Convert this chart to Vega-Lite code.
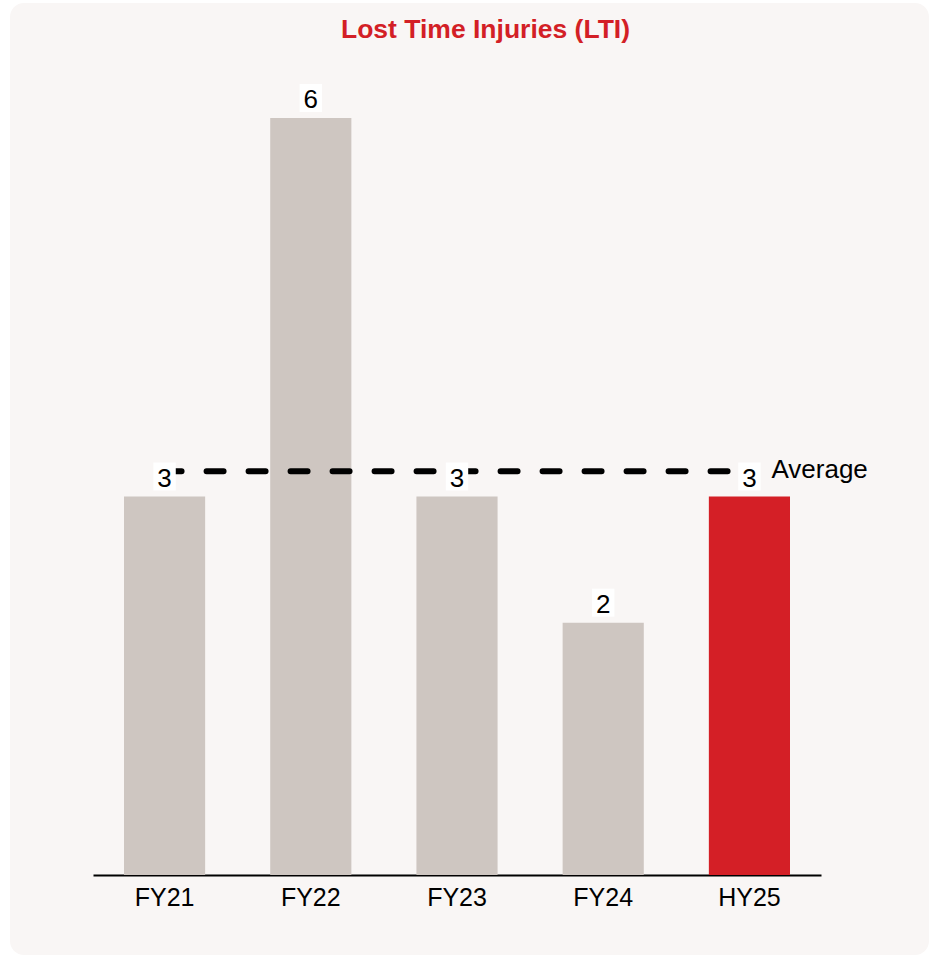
{
  "$schema": "https://vega.github.io/schema/vega-lite/v6.json",
  "autosize": "none",
  "width": 919,
  "height": 952,
  "padding": {"left": 10, "top": 3, "right": 0, "bottom": 2},
  "background": "#ffffff",
  "config": {
    "view": {"fill": "#f9f6f5", "stroke": null, "cornerRadius": 14},
    "font": "Liberation Sans"
  },
  "title": {
    "text": "Lost Time Injuries (LTI)",
    "color": "#d31f26",
    "fontSize": 26.5,
    "fontWeight": "bold",
    "font": "Liberation Sans",
    "anchor": "middle",
    "frame": "group",
    "baseline": "alphabetic",
    "offset": -61,
    "dx": 16
  },
  "datasets": {
    "bars": [
      {"period": "FY21", "lti": 3, "highlight": "no"},
      {"period": "FY22", "lti": 6, "highlight": "no"},
      {"period": "FY23", "lti": 3, "highlight": "no"},
      {"period": "FY24", "lti": 2, "highlight": "no"},
      {"period": "HY25", "lti": 3, "highlight": "yes"}
    ],
    "avg": [
      {"start": "FY21", "end": "HY25", "average": 3.2, "label": "Average"}
    ]
  },
  "layer": [
    {
      "data": {"name": "bars"},
      "mark": {"type": "bar"},
      "encoding": {
        "x": {
          "field": "period",
          "type": "nominal",
          "sort": null,
          "scale": {"range": [83, 811], "paddingInner": 0.445, "paddingOuter": 0.212},
          "axis": {
            "title": null,
            "orient": "bottom",
            "offset": -80,
            "domainColor": "#000000",
            "domainWidth": 2,
            "ticks": false,
            "labelFontSize": 25,
            "labelColor": "#000000",
            "labelPadding": 10,
            "labelAngle": 0,
            "labelFont": "Liberation Sans",
            "grid": false
          }
        },
        "y": {
          "field": "lti",
          "type": "quantitative",
          "scale": {"domain": [0, 6], "range": [872, 115], "nice": false, "zero": true},
          "axis": null
        },
        "color": {
          "field": "highlight",
          "type": "nominal",
          "scale": {"domain": ["no", "yes"], "range": ["#cec6c1", "#d41f26"]},
          "legend": null
        }
      }
    },
    {
      "data": {"name": "avg"},
      "mark": {"type": "rule", "color": "#000000", "strokeWidth": 6, "strokeDash": [17, 25], "strokeCap": "round"},
      "encoding": {
        "x": {"field": "start", "type": "nominal", "bandPosition": 0.5},
        "x2": {"field": "end", "bandPosition": 0.5},
        "y": {"field": "average", "type": "quantitative"}
      }
    },
    {
      "data": {"name": "bars"},
      "mark": {"type": "point", "shape": "M-0.8,-1H0.8V1H-0.8Z", "filled": true, "color": "#ffffff", "opacity": 1, "size": 784, "strokeWidth": 0, "yOffset": -20},
      "encoding": {
        "x": {"field": "period", "type": "nominal", "sort": null},
        "y": {"field": "lti", "type": "quantitative"}
      }
    },
    {
      "data": {"name": "bars"},
      "mark": {"type": "text", "fontSize": 26, "color": "#000000", "baseline": "alphabetic", "dy": -10, "font": "Liberation Sans"},
      "encoding": {
        "x": {"field": "period", "type": "nominal", "sort": null},
        "y": {"field": "lti", "type": "quantitative"},
        "text": {"field": "lti", "type": "quantitative"}
      }
    },
    {
      "data": {"name": "avg"},
      "mark": {"type": "text", "fontSize": 26, "color": "#000000", "align": "left", "baseline": "middle", "dx": 22, "dy": -1, "font": "Liberation Sans"},
      "encoding": {
        "x": {"field": "end", "type": "nominal", "bandPosition": 0.5},
        "y": {"field": "average", "type": "quantitative"},
        "text": {"field": "label", "type": "nominal"}
      }
    }
  ]
}
